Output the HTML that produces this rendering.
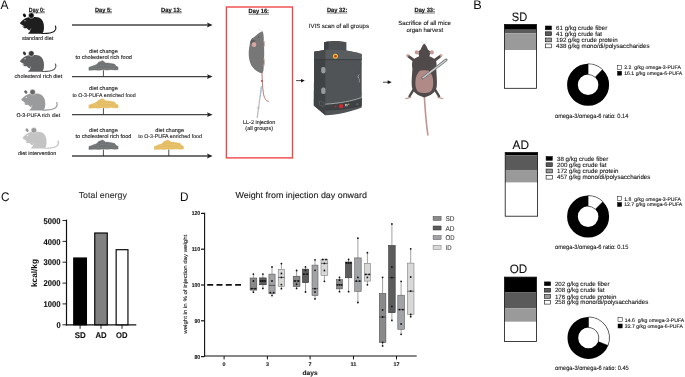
<!DOCTYPE html>
<html><head><meta charset="utf-8"><style>
html,body{margin:0;padding:0;background:#fff;overflow:hidden;width:685px;height:377px;}
svg{display:block;will-change:transform;filter:blur(0.3px);}
text{font-family:"Liberation Sans",sans-serif;text-rendering:geometricPrecision;}
</style></head><body>
<svg width="685" height="377" viewBox="0 0 685 377">
<rect width="685" height="377" fill="#fff"/>
<text x="0.5" y="9.0" font-size="12.5"  fill="#111" stroke="#111" stroke-width="0.04" textLength="8.0" lengthAdjust="spacingAndGlyphs" >A</text>
<text x="28.8" y="11.7" font-size="6.2" font-weight="bold" fill="#111" stroke="#111" stroke-width="0.15" textLength="16.1" lengthAdjust="spacingAndGlyphs" >Day 0:</text><line x1="28.8" y1="12.8" x2="44.9" y2="12.8" stroke="#222" stroke-width="0.6"/>
<text x="95.0" y="11.7" font-size="6.2" font-weight="bold" fill="#111" stroke="#111" stroke-width="0.15" textLength="17.0" lengthAdjust="spacingAndGlyphs" >Day 5:</text><line x1="95.0" y1="12.8" x2="112.0" y2="12.8" stroke="#222" stroke-width="0.6"/>
<text x="161.0" y="11.7" font-size="6.2" font-weight="bold" fill="#111" stroke="#111" stroke-width="0.15" textLength="20.8" lengthAdjust="spacingAndGlyphs" >Day 13:</text><line x1="161.0" y1="12.8" x2="181.8" y2="12.8" stroke="#222" stroke-width="0.6"/>
<text x="248.6" y="13.1" font-size="6.2" font-weight="bold" fill="#111" stroke="#111" stroke-width="0.15" textLength="20.4" lengthAdjust="spacingAndGlyphs" >Day 16:</text><line x1="248.6" y1="14.2" x2="269.0" y2="14.2" stroke="#222" stroke-width="0.6"/>
<text x="326.9" y="11.9" font-size="6.2" font-weight="bold" fill="#111" stroke="#111" stroke-width="0.15" textLength="20.4" lengthAdjust="spacingAndGlyphs" >Day 32:</text><line x1="326.9" y1="13.0" x2="347.3" y2="13.0" stroke="#222" stroke-width="0.6"/>
<text x="414.5" y="11.9" font-size="6.2" font-weight="bold" fill="#111" stroke="#111" stroke-width="0.15" textLength="20.5" lengthAdjust="spacingAndGlyphs" >Day 33:</text><line x1="414.5" y1="13.0" x2="435.0" y2="13.0" stroke="#222" stroke-width="0.6"/>
<line x1="72" y1="25.0" x2="209" y2="25.0" stroke="#444" stroke-width="1.3"/>
<path d="M207.0,22.6 L212.6,25.0 L207.0,27.4 L208.0,25.0 Z" fill="#222"/>
<line x1="72" y1="76.6" x2="209" y2="76.6" stroke="#444" stroke-width="1.3"/>
<path d="M207.0,74.19999999999999 L212.6,76.6 L207.0,79.0 L208.0,76.6 Z" fill="#222"/>
<line x1="72" y1="114.7" x2="209" y2="114.7" stroke="#444" stroke-width="1.3"/>
<path d="M207.0,112.3 L212.6,114.7 L207.0,117.10000000000001 L208.0,114.7 Z" fill="#222"/>
<line x1="72" y1="156.0" x2="209" y2="156.0" stroke="#444" stroke-width="1.3"/>
<path d="M207.0,153.6 L212.6,156.0 L207.0,158.4 L208.0,156.0 Z" fill="#222"/>
<g transform="translate(0,0)"><path d="M42,33.5 C47,33.6 51.5,33.3 54.3,31.2 C56,29.6 56.2,27.6 55.4,26" fill="none" stroke="#1e1e1e" stroke-width="1.1" stroke-linecap="round"/><ellipse cx="24.5" cy="15.4" rx="1.4" ry="1.9" transform="rotate(-35 24.5 15.4)" fill="#111"/><path d="M20.0,22.9 C21.0,21.6 22.5,20.0 24.2,18.9 C25.5,18.1 26.8,17.6 28.2,17.2 C30.5,16.8 32.0,16.9 33.0,17.3 C35.0,16.6 37.5,16.8 39.5,17.8 C42.5,19.4 44.2,23.0 44.0,27.5 C43.9,31.0 43.3,33.0 41.6,33.8 L28.3,33.8 L28.3,33.0 C29.3,32.6 30.0,31.6 30.2,30.6 C28.8,30.2 27.6,29.2 26.9,28.2 C25.8,28.4 24.6,28.4 23.5,28.0 C23.1,27.5 23.5,27.1 24.6,27.0 C23.8,26.5 23.0,26.4 22.3,26.8 C22.0,26.4 22.6,25.9 23.8,25.8 C22.6,25.2 21.4,24.6 20.6,24.0 C20.1,23.7 19.9,23.3 20.0,22.9 Z" fill="#1e1e1e"/><circle cx="31.3" cy="15.5" r="2.8" fill="#111" stroke="#fff" stroke-width="0.5"/><ellipse cx="25.0" cy="20.7" rx="0.75" ry="0.55" fill="#fff" opacity="0.9"/><path d="M30.8,28.4 C30.6,29.5 30.0,30.6 29.4,31.2" fill="none" stroke="#fff" stroke-width="0.45" opacity="0.9"/></g>
<g transform="translate(0,38)"><path d="M42,33.5 C47,33.6 51.5,33.3 54.3,31.2 C56,29.6 56.2,27.6 55.4,26" fill="none" stroke="#5f6061" stroke-width="1.1" stroke-linecap="round"/><ellipse cx="24.5" cy="15.4" rx="1.4" ry="1.9" transform="rotate(-35 24.5 15.4)" fill="#3a3a3a"/><path d="M20.0,22.9 C21.0,21.6 22.5,20.0 24.2,18.9 C25.5,18.1 26.8,17.6 28.2,17.2 C30.5,16.8 32.0,16.9 33.0,17.3 C35.0,16.6 37.5,16.8 39.5,17.8 C42.5,19.4 44.2,23.0 44.0,27.5 C43.9,31.0 43.3,33.0 41.6,33.8 L28.3,33.8 L28.3,33.0 C29.3,32.6 30.0,31.6 30.2,30.6 C28.8,30.2 27.6,29.2 26.9,28.2 C25.8,28.4 24.6,28.4 23.5,28.0 C23.1,27.5 23.5,27.1 24.6,27.0 C23.8,26.5 23.0,26.4 22.3,26.8 C22.0,26.4 22.6,25.9 23.8,25.8 C22.6,25.2 21.4,24.6 20.6,24.0 C20.1,23.7 19.9,23.3 20.0,22.9 Z" fill="#5f6061"/><circle cx="31.3" cy="15.5" r="2.8" fill="#3a3a3a" stroke="#fff" stroke-width="0.5"/><ellipse cx="25.0" cy="20.7" rx="0.75" ry="0.55" fill="#fff" opacity="0.9"/><path d="M30.8,28.4 C30.6,29.5 30.0,30.6 29.4,31.2" fill="none" stroke="#fff" stroke-width="0.45" opacity="0.9"/></g>
<g transform="translate(1.3,76.6)"><path d="M42,33.5 C47,33.6 51.5,33.3 54.3,31.2 C56,29.6 56.2,27.6 55.4,26" fill="none" stroke="#9a9b9c" stroke-width="1.1" stroke-linecap="round"/><ellipse cx="24.5" cy="15.4" rx="1.4" ry="1.9" transform="rotate(-35 24.5 15.4)" fill="#686868"/><path d="M20.0,22.9 C21.0,21.6 22.5,20.0 24.2,18.9 C25.5,18.1 26.8,17.6 28.2,17.2 C30.5,16.8 32.0,16.9 33.0,17.3 C35.0,16.6 37.5,16.8 39.5,17.8 C42.5,19.4 44.2,23.0 44.0,27.5 C43.9,31.0 43.3,33.0 41.6,33.8 L28.3,33.8 L28.3,33.0 C29.3,32.6 30.0,31.6 30.2,30.6 C28.8,30.2 27.6,29.2 26.9,28.2 C25.8,28.4 24.6,28.4 23.5,28.0 C23.1,27.5 23.5,27.1 24.6,27.0 C23.8,26.5 23.0,26.4 22.3,26.8 C22.0,26.4 22.6,25.9 23.8,25.8 C22.6,25.2 21.4,24.6 20.6,24.0 C20.1,23.7 19.9,23.3 20.0,22.9 Z" fill="#9a9b9c"/><circle cx="31.3" cy="15.5" r="2.8" fill="#686868" stroke="#fff" stroke-width="0.5"/><ellipse cx="25.0" cy="20.7" rx="0.75" ry="0.55" fill="#fff" opacity="0.9"/><path d="M30.8,28.4 C30.6,29.5 30.0,30.6 29.4,31.2" fill="none" stroke="#fff" stroke-width="0.45" opacity="0.9"/></g>
<g transform="translate(2.6,114.8)"><path d="M42,33.5 C47,33.6 51.5,33.3 54.3,31.2 C56,29.6 56.2,27.6 55.4,26" fill="none" stroke="#c4c4c4" stroke-width="1.1" stroke-linecap="round"/><ellipse cx="24.5" cy="15.4" rx="1.4" ry="1.9" transform="rotate(-35 24.5 15.4)" fill="#9a9a9a"/><path d="M20.0,22.9 C21.0,21.6 22.5,20.0 24.2,18.9 C25.5,18.1 26.8,17.6 28.2,17.2 C30.5,16.8 32.0,16.9 33.0,17.3 C35.0,16.6 37.5,16.8 39.5,17.8 C42.5,19.4 44.2,23.0 44.0,27.5 C43.9,31.0 43.3,33.0 41.6,33.8 L28.3,33.8 L28.3,33.0 C29.3,32.6 30.0,31.6 30.2,30.6 C28.8,30.2 27.6,29.2 26.9,28.2 C25.8,28.4 24.6,28.4 23.5,28.0 C23.1,27.5 23.5,27.1 24.6,27.0 C23.8,26.5 23.0,26.4 22.3,26.8 C22.0,26.4 22.6,25.9 23.8,25.8 C22.6,25.2 21.4,24.6 20.6,24.0 C20.1,23.7 19.9,23.3 20.0,22.9 Z" fill="#c4c4c4"/><circle cx="31.3" cy="15.5" r="2.8" fill="#9a9a9a" stroke="#fff" stroke-width="0.5"/><ellipse cx="25.0" cy="20.7" rx="0.75" ry="0.55" fill="#fff" opacity="0.9"/><path d="M30.8,28.4 C30.6,29.5 30.0,30.6 29.4,31.2" fill="none" stroke="#fff" stroke-width="0.45" opacity="0.9"/></g>
<text x="21.9" y="40.0" font-size="5.41"  fill="#222" stroke="#222" stroke-width="0.12" textLength="31.3" lengthAdjust="spacingAndGlyphs" >standard diet</text>
<text x="14.6" y="77.6" font-size="5.53"  fill="#222" stroke="#222" stroke-width="0.12" textLength="47.6" lengthAdjust="spacingAndGlyphs" >cholesterol rich diet</text>
<text x="16.5" y="116.6" font-size="5.23"  fill="#222" stroke="#222" stroke-width="0.12" textLength="43.6" lengthAdjust="spacingAndGlyphs" >O-3-PUFA rich diet</text>
<text x="17.9" y="154.6" font-size="5.45"  fill="#222" stroke="#222" stroke-width="0.12" textLength="38.5" lengthAdjust="spacingAndGlyphs" >diet intervention</text>
<path d="M88.90,70.30 L88.90,67.30 L90.40,66.70 L92.40,66.00 L93.90,65.40 L95.90,64.70 L97.40,63.70 L98.40,62.30 L100.40,61.60 L102.10,60.80 L103.30,61.10 L104.40,61.90 L105.60,63.00 L107.40,62.90 L110.10,63.30 L112.40,63.70 L114.50,64.10 L115.40,65.10 L115.90,66.10 L117.20,66.60 L118.10,67.20 L118.10,69.80 L114.90,70.00 L110.90,69.70 L106.90,70.10 L102.90,69.80 L98.90,70.30 L94.90,70.00 Z" fill="#6f7373" stroke="#6f7373" stroke-width="0.4" stroke-linejoin="round"/><path d="M90.9,68.1 l5,0" stroke="#8a8e8e" stroke-width="0.5" opacity="0.8"/><path d="M96.9,68.3 l6,0" stroke="#8a8e8e" stroke-width="0.5" opacity="0.8"/><path d="M103.9,68.5 l5,0" stroke="#8a8e8e" stroke-width="0.5" opacity="0.8"/><path d="M109.9,68.1 l6,0" stroke="#8a8e8e" stroke-width="0.5" opacity="0.8"/><path d="M93.9,66.3 l4,0" stroke="#8a8e8e" stroke-width="0.5" opacity="0.8"/><path d="M99.9,65.3 l5,0" stroke="#8a8e8e" stroke-width="0.5" opacity="0.8"/><path d="M105.9,65.7 l6,0" stroke="#8a8e8e" stroke-width="0.5" opacity="0.8"/><path d="M100.9,62.7 l3,0" stroke="#8a8e8e" stroke-width="0.5" opacity="0.8"/><path d="M112.9,66.1 l3,0" stroke="#8a8e8e" stroke-width="0.5" opacity="0.8"/><line x1="103.4" y1="70.3" x2="103.4" y2="76.6" stroke="#222" stroke-width="0.8"/>
<path d="M88.90,108.20 L88.90,105.20 L90.40,104.60 L92.40,103.90 L93.90,103.30 L95.90,102.60 L97.40,101.60 L98.40,100.20 L100.40,99.50 L102.10,98.70 L103.30,99.00 L104.40,99.80 L105.60,100.90 L107.40,100.80 L110.10,101.20 L112.40,101.60 L114.50,102.00 L115.40,103.00 L115.90,104.00 L117.20,104.50 L118.10,105.10 L118.10,107.70 L114.90,107.90 L110.90,107.60 L106.90,108.00 L102.90,107.70 L98.90,108.20 L94.90,107.90 Z" fill="#e4bc62" stroke="#e4bc62" stroke-width="0.4" stroke-linejoin="round"/><path d="M90.9,106.0 l5,0" stroke="#f0d28e" stroke-width="0.5" opacity="0.8"/><path d="M96.9,106.2 l6,0" stroke="#f0d28e" stroke-width="0.5" opacity="0.8"/><path d="M103.9,106.4 l5,0" stroke="#f0d28e" stroke-width="0.5" opacity="0.8"/><path d="M109.9,106.0 l6,0" stroke="#f0d28e" stroke-width="0.5" opacity="0.8"/><path d="M93.9,104.2 l4,0" stroke="#f0d28e" stroke-width="0.5" opacity="0.8"/><path d="M99.9,103.2 l5,0" stroke="#f0d28e" stroke-width="0.5" opacity="0.8"/><path d="M105.9,103.6 l6,0" stroke="#f0d28e" stroke-width="0.5" opacity="0.8"/><path d="M100.9,100.6 l3,0" stroke="#f0d28e" stroke-width="0.5" opacity="0.8"/><path d="M112.9,104.0 l3,0" stroke="#f0d28e" stroke-width="0.5" opacity="0.8"/><line x1="103.4" y1="108.2" x2="103.4" y2="114.7" stroke="#222" stroke-width="0.8"/>
<path d="M88.90,149.50 L88.90,146.50 L90.40,145.90 L92.40,145.20 L93.90,144.60 L95.90,143.90 L97.40,142.90 L98.40,141.50 L100.40,140.80 L102.10,140.00 L103.30,140.30 L104.40,141.10 L105.60,142.20 L107.40,142.10 L110.10,142.50 L112.40,142.90 L114.50,143.30 L115.40,144.30 L115.90,145.30 L117.20,145.80 L118.10,146.40 L118.10,149.00 L114.90,149.20 L110.90,148.90 L106.90,149.30 L102.90,149.00 L98.90,149.50 L94.90,149.20 Z" fill="#6f7373" stroke="#6f7373" stroke-width="0.4" stroke-linejoin="round"/><path d="M90.9,147.3 l5,0" stroke="#8a8e8e" stroke-width="0.5" opacity="0.8"/><path d="M96.9,147.5 l6,0" stroke="#8a8e8e" stroke-width="0.5" opacity="0.8"/><path d="M103.9,147.7 l5,0" stroke="#8a8e8e" stroke-width="0.5" opacity="0.8"/><path d="M109.9,147.3 l6,0" stroke="#8a8e8e" stroke-width="0.5" opacity="0.8"/><path d="M93.9,145.5 l4,0" stroke="#8a8e8e" stroke-width="0.5" opacity="0.8"/><path d="M99.9,144.5 l5,0" stroke="#8a8e8e" stroke-width="0.5" opacity="0.8"/><path d="M105.9,144.9 l6,0" stroke="#8a8e8e" stroke-width="0.5" opacity="0.8"/><path d="M100.9,141.9 l3,0" stroke="#8a8e8e" stroke-width="0.5" opacity="0.8"/><path d="M112.9,145.3 l3,0" stroke="#8a8e8e" stroke-width="0.5" opacity="0.8"/><line x1="103.4" y1="149.5" x2="103.4" y2="156" stroke="#222" stroke-width="0.8"/>
<path d="M154.30,149.50 L154.30,146.50 L155.80,145.90 L157.80,145.20 L159.30,144.60 L161.30,143.90 L162.80,142.90 L163.80,141.50 L165.80,140.80 L167.50,140.00 L168.70,140.30 L169.80,141.10 L171.00,142.20 L172.80,142.10 L175.50,142.50 L177.80,142.90 L179.90,143.30 L180.80,144.30 L181.30,145.30 L182.60,145.80 L183.50,146.40 L183.50,149.00 L180.30,149.20 L176.30,148.90 L172.30,149.30 L168.30,149.00 L164.30,149.50 L160.30,149.20 Z" fill="#e4bc62" stroke="#e4bc62" stroke-width="0.4" stroke-linejoin="round"/><path d="M156.3,147.3 l5,0" stroke="#f0d28e" stroke-width="0.5" opacity="0.8"/><path d="M162.3,147.5 l6,0" stroke="#f0d28e" stroke-width="0.5" opacity="0.8"/><path d="M169.3,147.7 l5,0" stroke="#f0d28e" stroke-width="0.5" opacity="0.8"/><path d="M175.3,147.3 l6,0" stroke="#f0d28e" stroke-width="0.5" opacity="0.8"/><path d="M159.3,145.5 l4,0" stroke="#f0d28e" stroke-width="0.5" opacity="0.8"/><path d="M165.3,144.5 l5,0" stroke="#f0d28e" stroke-width="0.5" opacity="0.8"/><path d="M171.3,144.9 l6,0" stroke="#f0d28e" stroke-width="0.5" opacity="0.8"/><path d="M166.3,141.9 l3,0" stroke="#f0d28e" stroke-width="0.5" opacity="0.8"/><path d="M178.3,145.3 l3,0" stroke="#f0d28e" stroke-width="0.5" opacity="0.8"/><line x1="168.8" y1="149.5" x2="168.8" y2="156" stroke="#222" stroke-width="0.8"/>
<text x="89.1" y="52.6" font-size="5.55"  fill="#222" stroke="#222" stroke-width="0.12" textLength="28.7" lengthAdjust="spacingAndGlyphs" >diet change</text>
<text x="75.4" y="59.0" font-size="5.62"  fill="#222" stroke="#222" stroke-width="0.12" textLength="56.5" lengthAdjust="spacingAndGlyphs" >to cholesterol rich food</text>
<text x="89.1" y="90.2" font-size="5.55"  fill="#222" stroke="#222" stroke-width="0.12" textLength="28.7" lengthAdjust="spacingAndGlyphs" >diet change</text>
<text x="72.4" y="96.6" font-size="5.27"  fill="#222" stroke="#222" stroke-width="0.12" textLength="63.3" lengthAdjust="spacingAndGlyphs" >to O-3-PUFA enriched food</text>
<text x="89.1" y="132.0" font-size="5.55"  fill="#222" stroke="#222" stroke-width="0.12" textLength="28.7" lengthAdjust="spacingAndGlyphs" >diet change</text>
<text x="75.5" y="138.3" font-size="5.55"  fill="#222" stroke="#222" stroke-width="0.12" textLength="55.8" lengthAdjust="spacingAndGlyphs" >to cholesterol rich food</text>
<text x="155.3" y="132.0" font-size="5.55"  fill="#222" stroke="#222" stroke-width="0.12" textLength="28.7" lengthAdjust="spacingAndGlyphs" >diet change</text>
<text x="138.3" y="138.3" font-size="5.31"  fill="#222" stroke="#222" stroke-width="0.12" textLength="63.7" lengthAdjust="spacingAndGlyphs" >to O-3-PUFA enriched food</text>
<rect x="226.4" y="7" width="66.1" height="150.9" fill="none" stroke="#f04848" stroke-width="1.4"/>
<path d="M261.9,72 C262.2,80 262.6,89 263.6,94.5 C264.6,99 266.5,101.5 268.8,101.3" fill="none" stroke="#c4706c" stroke-width="1.0"/>
<line x1="261.4" y1="87" x2="257.2" y2="117.8" stroke="#b8b8b8" stroke-width="1.2"/>
<line x1="256.6" y1="107.6" x2="260.0" y2="108.2" stroke="#b0b0b0" stroke-width="0.6"/>
<line x1="261.4" y1="86" x2="260.3" y2="97" stroke="#90c4dc" stroke-width="0.9"/>
<circle cx="262" cy="81" r="0.9" fill="#d03030"/>
<path d="M262.3,31.2 C263.3,32 263.8,35.5 263.8,40 C264.4,50 264.4,60 263.5,70 C263.2,72 262.7,73 261.9,73.2 C258,72.6 253,69 250.6,64 C248.6,59 248.4,53 249.0,49 C249.4,46 250.0,43 250.6,40.8 C250.8,39.5 251.8,38.4 253,37.7 C255,36.5 257.5,34.2 259.9,32.6 C260.8,32 261.6,31.4 262.3,31.2 Z" fill="#777777"/>
<circle cx="252.9" cy="41.9" r="2.5" fill="#5e5e5e"/>
<ellipse cx="254.0" cy="44.4" rx="2.3" ry="2.5" fill="#d9a5a1"/>
<circle cx="258.5" cy="37.0" r="0.55" fill="#333"/>
<path d="M263.6,40.5 C264.8,42 264.9,44.5 264.1,46.5" stroke="#d8a4a0" stroke-width="1" fill="none"/>
<path d="M263.8,58.5 C264.8,61 264.8,64 263.8,66" stroke="#d8a4a0" stroke-width="1" fill="none"/>
<line x1="262.4" y1="31.5" x2="258.6" y2="28.6" stroke="#bbb" stroke-width="0.35"/>
<text x="243.1" y="124.0" font-size="5.41"  fill="#222" stroke="#222" stroke-width="0.12" textLength="32.2" lengthAdjust="spacingAndGlyphs" >LL-2 injection</text>
<text x="245.3" y="130.0" font-size="5.56"  fill="#222" stroke="#222" stroke-width="0.12" textLength="27.8" lengthAdjust="spacingAndGlyphs" >(all groups)</text>
<line x1="296.1" y1="80.6" x2="301.5" y2="80.6" stroke="#333" stroke-width="0.9"/><path d="M301,78.9 L304.8,80.6 L301,82.4 Z" fill="#111"/>
<line x1="383" y1="82.2" x2="388.2" y2="82.2" stroke="#333" stroke-width="0.9"/><path d="M387.7,80.3 L391.7,82.2 L387.7,84.1 Z" fill="#111"/>
<text x="308.8" y="28.4" font-size="6.01"  fill="#222" stroke="#222" stroke-width="0.12" textLength="60.1" lengthAdjust="spacingAndGlyphs" >IVIS scan of all groups</text>
<text x="398.2" y="24.9" font-size="6.13"  fill="#222" stroke="#222" stroke-width="0.12" textLength="52.8" lengthAdjust="spacingAndGlyphs" >Sacrifice of all mice</text>
<text x="406.4" y="31.5" font-size="6.0"  fill="#222" stroke="#222" stroke-width="0.12" textLength="36.7" lengthAdjust="spacingAndGlyphs" >organ harvest</text>
<path d="M324.1,42.2 C330,40.6 340,40.6 346.4,42.2 L346.4,51 L324.1,51 Z" fill="#4d5052"/>
<path d="M324.1,42.2 C325.5,41.8 327,41.5 328.6,41.3 L328.6,51 L324.1,51 Z" fill="#3f4244"/>
<path d="M314.2,51.7 L325.3,49.9 C340,49.4 352,50.8 361.7,54.1 L361.7,107.4 C352,111.5 338,114.5 325.3,115.3 L313.8,105.4 Z" fill="#515456"/>
<path d="M314.2,51.7 L325.3,49.9 L325.3,115.3 L313.8,105.4 Z" fill="#404345"/>
<path d="M325.3,49.9 C340,49.4 352,50.8 361.7,54.1 L361.7,59.6 L325.3,59.6 Z" fill="#5a5d5f"/>
<path d="M314.2,51.7 L325.3,49.9 L325.3,59.6 L314.2,59.6 Z" fill="#484b4d"/>
<line x1="314.2" y1="59.6" x2="361.7" y2="59.6" stroke="#35383a" stroke-width="0.7"/>
<path d="M325.3,104.2 C340,103.2 352,101 361.7,97.5 L361.7,105.4 C352,108.3 338,110 325.3,110.1 Z" fill="#3f4244"/>
<path d="M325.3,104.2 C340,103.2 352,101 361.7,97.5" fill="none" stroke="#a3a5a7" stroke-width="1.0"/>
<path d="M325.3,110.1 C338,110 352,108.3 361.7,105.4" fill="none" stroke="#36393b" stroke-width="0.6"/>
<circle cx="335.4" cy="56.2" r="2.5" fill="#e6c23a"/><circle cx="335.4" cy="56.2" r="1.3" fill="#d0302c"/>
<circle cx="341.2" cy="106.2" r="2.1" fill="#d8282a"/><circle cx="335.6" cy="106.4" r="0.7" fill="#cc3030"/>
<rect x="345.2" y="104" width="2.2" height="2.2" fill="#e8e8e8"/><circle cx="346.3" cy="105.1" r="0.6" fill="#222"/><circle cx="348.7" cy="104.2" r="0.6" fill="#e6c23a"/>
<circle cx="357.3" cy="104.2" r="1.6" fill="#5c5f61" stroke="#2e3133" stroke-width="0.4"/>
<rect x="321.2" y="67.0" width="4.3" height="6.4" rx="1.8" fill="#97999b"/>
<rect x="321.2" y="87.6" width="4.3" height="6.4" rx="1.8" fill="#97999b"/>
<path d="M359.6,74.5 C357.6,75 357.6,78.2 359.4,78.8 L359.4,82.5" fill="none" stroke="#a0a2a4" stroke-width="1"/>
<path d="M361.2,63 C359.5,70 359.5,85 361.2,95" fill="none" stroke="#45484a" stroke-width="0.5"/>
<path d="M319.5,101 L323.8,102.6 L323.8,106.6 L319.5,105 Z" fill="none" stroke="#6a6d6f" stroke-width="0.5"/>
<path d="M424.3,96 C425.0,108 426.0,122 427.9,135" fill="none" stroke="#c09490" stroke-width="1.6" stroke-linecap="round"/>
<path d="M415.5,61.5 L410,57.5 L408.2,56 M433.1,61.5 L438.6,57.5 L440.4,56" stroke="#504b4a" stroke-width="2.8" fill="none" stroke-linecap="round"/>
<circle cx="407.5" cy="55.6" r="1.3" fill="#d4a09c"/><circle cx="441.1" cy="55.6" r="1.3" fill="#d4a09c"/>
<path d="M414,89 L410.5,94.5 L409.5,96.5 M434.6,89 L438.1,94.5 L439.1,96.5" stroke="#504b4a" stroke-width="2.4" fill="none" stroke-linecap="round"/>
<path d="M405.8,98.6 L410.8,97.4 M442.8,98.6 L437.8,97.4" stroke="#c49a96" stroke-width="1.2" fill="none" stroke-linecap="round"/>
<path d="M424.3,43.6 C425.6,44.4 426.8,46.8 427.9,49.4 L430.0,51.3 C430.4,53 430.0,54.8 429.4,56.3 C431.5,57.2 433.8,58.2 435.6,59.8 C437.0,62.5 436.6,66 436.2,69 C436.6,75 437.2,81 436.8,86 C436.4,90.5 433.5,93.5 429.5,95.5 L424.3,97.4 L419.1,95.5 C415.1,93.5 412.2,90.5 411.8,86 C411.4,81 412.0,75 412.4,69 C412.0,66 411.6,62.5 413.0,59.8 C414.8,58.2 417.1,57.2 419.2,56.3 C418.6,54.8 418.2,53 418.6,51.3 L420.7,49.4 C421.8,46.8 423.0,44.4 424.3,43.6 Z" fill="#504b4a"/>
<path d="M419.8,70.8 C422,70.0 426.6,70.0 428.8,70.8 C431.5,73.5 433.2,77 433.2,82 C433.2,87 432.5,90.5 429.5,92.3 C427,93.2 421.6,93.2 419.1,92.3 C416.1,90.5 415.4,87 415.4,82 C415.4,77 417.1,73.5 419.8,70.8 Z" fill="#b08a86"/>
<circle cx="416.8" cy="52.4" r="2.1" fill="#c59a96"/><circle cx="431.8" cy="52.4" r="2.1" fill="#c59a96"/>
<line x1="446.2" y1="59.9" x2="422.7" y2="78.0" stroke="#5a5c5e" stroke-width="2.6" stroke-linecap="round"/>
<line x1="446.0" y1="60.1" x2="422.9" y2="77.8" stroke="#c9cbcd" stroke-width="1.5" stroke-linecap="round"/>
<line x1="424.3" y1="44" x2="421" y2="41.5" stroke="#bbb" stroke-width="0.35"/><line x1="424.3" y1="44" x2="427.5" y2="41.5" stroke="#bbb" stroke-width="0.35"/>
<text x="473.3" y="9.1" font-size="12.5"  fill="#111" stroke="#111" stroke-width="0.04" textLength="8.5" lengthAdjust="spacingAndGlyphs" >B</text>
<text x="511.8" y="21.2" font-size="12.2"  fill="#111" stroke="#111" stroke-width="0.12" textLength="15.4" lengthAdjust="spacingAndGlyphs" >SD</text>
<rect x="504.4" y="24.40" width="32.10000000000002" height="5.32" fill="#000000"/><rect x="504.4" y="29.72" width="32.10000000000002" height="3.58" fill="#5a5a5a"/><rect x="504.4" y="33.30" width="32.10000000000002" height="16.76" fill="#9a9a9a"/><rect x="504.4" y="50.06" width="32.10000000000002" height="38.24" fill="#ffffff"/><rect x="504.4" y="24.4" width="32.10000000000002" height="63.9" fill="none" stroke="#111" stroke-width="0.8"/>
<rect x="545.3" y="26.0" width="6.2" height="3.8" fill="#000000" stroke="#111" stroke-width="0.6"/><text x="556.1" y="30.1" font-size="6.18"  fill="#222" stroke="#222" stroke-width="0.12" textLength="51.2" lengthAdjust="spacingAndGlyphs" >61 g/kg crude fiber</text><rect x="545.3" y="31.8" width="6.2" height="3.8" fill="#5a5a5a" stroke="#111" stroke-width="0.6"/><text x="556.1" y="35.9" font-size="6.18"  fill="#222" stroke="#222" stroke-width="0.12" textLength="46.0" lengthAdjust="spacingAndGlyphs" >41 g/kg crude fat</text><rect x="545.3" y="38.0" width="6.2" height="3.8" fill="#9a9a9a" stroke="#111" stroke-width="0.6"/><text x="556.1" y="42.1" font-size="6.18"  fill="#222" stroke="#222" stroke-width="0.12" textLength="61.5" lengthAdjust="spacingAndGlyphs" >192 g/kg crude protein</text><rect x="545.3" y="44.0" width="6.2" height="3.8" fill="#ffffff" stroke="#111" stroke-width="0.6"/><text x="556.1" y="48.1" font-size="6.18"  fill="#222" stroke="#222" stroke-width="0.12" textLength="93.4" lengthAdjust="spacingAndGlyphs" >438 g/kg mono/di/polysaccharides</text>
<circle cx="588.1" cy="84.8" r="15.65" fill="none" stroke="#000" stroke-width="10.7"/><path d="M588.1,63.8 A21,21 0 0 1 602.50,69.51 L595.16,77.30 A10.3,10.3 0 0 0 588.1,74.5 Z" fill="#fff" stroke="#000" stroke-width="0.5"/>
<rect x="617.5" y="65.4" width="4.2" height="4" fill="#fff" stroke="#111" stroke-width="0.5"/><text x="624.2" y="69.3" font-size="5.15"  fill="#222" stroke="#222" stroke-width="0.12" textLength="56.7" lengthAdjust="spacingAndGlyphs" >2.2 &#160;g/kg omega-3-PUFA</text><rect x="617.5" y="71.2" width="4.2" height="4" fill="#000" stroke="#111" stroke-width="0.5"/><text x="624.2" y="75.1" font-size="5.15"  fill="#222" stroke="#222" stroke-width="0.12" textLength="58.1" lengthAdjust="spacingAndGlyphs" >16.1 g/kg omega-6-PUFA</text>
<text x="555.0" y="117.8" font-size="6.2"  fill="#222" stroke="#222" stroke-width="0.12" textLength="73.3" lengthAdjust="spacingAndGlyphs" >omega-3/omega-6 ratio: 0.14</text>
<text x="512.6" y="148.6" font-size="12.2"  fill="#111" stroke="#111" stroke-width="0.12" textLength="16.4" lengthAdjust="spacingAndGlyphs" >AD</text>
<rect x="505.2" y="152.50" width="32.400000000000034" height="2.79" fill="#000000"/><rect x="505.2" y="155.29" width="32.400000000000034" height="14.69" fill="#5a5a5a"/><rect x="505.2" y="169.99" width="32.400000000000034" height="12.64" fill="#9a9a9a"/><rect x="505.2" y="182.62" width="32.400000000000034" height="33.58" fill="#ffffff"/><rect x="505.2" y="152.5" width="32.400000000000034" height="63.69999999999999" fill="none" stroke="#111" stroke-width="0.8"/>
<rect x="546.1" y="156.5" width="6.2" height="3.8" fill="#000000" stroke="#111" stroke-width="0.6"/><text x="557.0" y="160.6" font-size="6.18"  fill="#222" stroke="#222" stroke-width="0.12" textLength="51.2" lengthAdjust="spacingAndGlyphs" >38 g/kg crude fiber</text><rect x="546.1" y="162.8" width="6.2" height="3.8" fill="#5a5a5a" stroke="#111" stroke-width="0.6"/><text x="557.0" y="166.9" font-size="6.18"  fill="#222" stroke="#222" stroke-width="0.12" textLength="49.5" lengthAdjust="spacingAndGlyphs" >200 g/kg crude fat</text><rect x="546.1" y="169.1" width="6.2" height="3.8" fill="#9a9a9a" stroke="#111" stroke-width="0.6"/><text x="557.0" y="173.2" font-size="6.18"  fill="#222" stroke="#222" stroke-width="0.12" textLength="61.5" lengthAdjust="spacingAndGlyphs" >172 g/kg crude protein</text><rect x="546.1" y="175.3" width="6.2" height="3.8" fill="#ffffff" stroke="#111" stroke-width="0.6"/><text x="557.0" y="179.4" font-size="6.18"  fill="#222" stroke="#222" stroke-width="0.12" textLength="93.4" lengthAdjust="spacingAndGlyphs" >457 g/kg mono/di/polysaccharides</text>
<circle cx="588.1" cy="216.6" r="15.65" fill="none" stroke="#000" stroke-width="10.7"/><path d="M588.1,195.6 A21,21 0 0 1 602.87,201.67 L595.34,209.28 A10.3,10.3 0 0 0 588.1,206.29999999999998 Z" fill="#fff" stroke="#000" stroke-width="0.5"/>
<rect x="617.5" y="196.7" width="4.2" height="4" fill="#fff" stroke="#111" stroke-width="0.5"/><text x="624.2" y="200.6" font-size="5.15"  fill="#222" stroke="#222" stroke-width="0.12" textLength="56.7" lengthAdjust="spacingAndGlyphs" >1.8 &#160;g/kg omega-3-PUFA</text><rect x="617.5" y="202.5" width="4.2" height="4" fill="#000" stroke="#111" stroke-width="0.5"/><text x="624.2" y="206.4" font-size="5.15"  fill="#222" stroke="#222" stroke-width="0.12" textLength="58.1" lengthAdjust="spacingAndGlyphs" >12.7 g/kg omega-6-PUFA</text>
<text x="555.0" y="249.4" font-size="6.2"  fill="#222" stroke="#222" stroke-width="0.12" textLength="73.3" lengthAdjust="spacingAndGlyphs" >omega-3/omega-6 ratio: 0.15</text>
<text x="509.7" y="272.5" font-size="12.2"  fill="#111" stroke="#111" stroke-width="0.12" textLength="17.5" lengthAdjust="spacingAndGlyphs" >OD</text>
<rect x="504.4" y="277.10" width="32.10000000000002" height="15.41" fill="#000000"/><rect x="504.4" y="292.51" width="32.10000000000002" height="15.87" fill="#5a5a5a"/><rect x="504.4" y="308.38" width="32.10000000000002" height="13.43" fill="#9a9a9a"/><rect x="504.4" y="321.81" width="32.10000000000002" height="19.69" fill="#ffffff"/><rect x="504.4" y="277.1" width="32.10000000000002" height="64.39999999999998" fill="none" stroke="#111" stroke-width="0.8"/>
<rect x="544.4" y="281.9" width="6.2" height="3.8" fill="#000000" stroke="#111" stroke-width="0.6"/><text x="554.9" y="286.0" font-size="6.18"  fill="#222" stroke="#222" stroke-width="0.12" textLength="54.6" lengthAdjust="spacingAndGlyphs" >202 g/kg crude fiber</text><rect x="544.4" y="288.3" width="6.2" height="3.8" fill="#5a5a5a" stroke="#111" stroke-width="0.6"/><text x="554.9" y="292.4" font-size="6.18"  fill="#222" stroke="#222" stroke-width="0.12" textLength="49.5" lengthAdjust="spacingAndGlyphs" >208 g/kg crude fat</text><rect x="544.4" y="294.5" width="6.2" height="3.8" fill="#9a9a9a" stroke="#111" stroke-width="0.6"/><text x="554.9" y="298.6" font-size="6.18"  fill="#222" stroke="#222" stroke-width="0.12" textLength="61.5" lengthAdjust="spacingAndGlyphs" >176 g/kg crude protein</text><rect x="544.4" y="300.3" width="6.2" height="3.8" fill="#ffffff" stroke="#111" stroke-width="0.6"/><text x="554.9" y="304.4" font-size="6.18"  fill="#222" stroke="#222" stroke-width="0.12" textLength="93.4" lengthAdjust="spacingAndGlyphs" >258 g/kg mono/di/polysaccharides</text>
<circle cx="588.5" cy="337.9" r="15.65" fill="none" stroke="#000" stroke-width="10.7"/><path d="M588.5,316.9 A21,21 0 0 1 608.09,345.47 L598.11,341.61 A10.3,10.3 0 0 0 588.5,327.59999999999997 Z" fill="#fff" stroke="#000" stroke-width="0.5"/>
<rect x="618.0" y="317.6" width="4.2" height="4" fill="#fff" stroke="#111" stroke-width="0.5"/><text x="624.8" y="321.5" font-size="5.15"  fill="#222" stroke="#222" stroke-width="0.12" textLength="59.5" lengthAdjust="spacingAndGlyphs" >14.6 &#160;g/kg omega-3-PUFA</text><rect x="618.0" y="324.0" width="4.2" height="4" fill="#000" stroke="#111" stroke-width="0.5"/><text x="624.8" y="327.9" font-size="5.15"  fill="#222" stroke="#222" stroke-width="0.12" textLength="58.1" lengthAdjust="spacingAndGlyphs" >32.7 g/kg omega-6-PUFA</text>
<text x="555.0" y="370.4" font-size="6.2"  fill="#222" stroke="#222" stroke-width="0.12" textLength="73.8" lengthAdjust="spacingAndGlyphs" >omega-3/omega-6 ratio: 0.45</text>
<text x="1.0" y="201.0" font-size="12.5"  fill="#111" stroke="#111" stroke-width="0.04" textLength="8.5" lengthAdjust="spacingAndGlyphs" >C</text>
<text x="78.7" y="197.8" font-size="8.6"  fill="#333" stroke="#333" stroke-width="0.12" textLength="48.2" lengthAdjust="spacingAndGlyphs" >Total energy</text>
<line x1="66.5" y1="219.6" x2="66.5" y2="325.40000000000003" stroke="#111" stroke-width="1.2"/>
<line x1="65.9" y1="324.8" x2="136.3" y2="324.8" stroke="#111" stroke-width="1.2"/>
<line x1="62.5" y1="324.8" x2="66.3" y2="324.8" stroke="#111" stroke-width="0.9"/>
<text x="56.4" y="328.0" font-size="8.4" font-weight="bold" fill="#111" stroke="#111" stroke-width="0.12" textLength="4.2" lengthAdjust="spacingAndGlyphs" >0</text>
<line x1="62.5" y1="303.9" x2="66.3" y2="303.9" stroke="#111" stroke-width="0.9"/>
<text x="43.6" y="307.1" font-size="8.4" font-weight="bold" fill="#111" stroke="#111" stroke-width="0.12" textLength="17.0" lengthAdjust="spacingAndGlyphs" >1000</text>
<line x1="62.5" y1="283.1" x2="66.3" y2="283.1" stroke="#111" stroke-width="0.9"/>
<text x="43.6" y="286.3" font-size="8.4" font-weight="bold" fill="#111" stroke="#111" stroke-width="0.12" textLength="17.0" lengthAdjust="spacingAndGlyphs" >2000</text>
<line x1="62.5" y1="262.2" x2="66.3" y2="262.2" stroke="#111" stroke-width="0.9"/>
<text x="43.6" y="265.4" font-size="8.4" font-weight="bold" fill="#111" stroke="#111" stroke-width="0.12" textLength="17.0" lengthAdjust="spacingAndGlyphs" >3000</text>
<line x1="62.5" y1="241.4" x2="66.3" y2="241.4" stroke="#111" stroke-width="0.9"/>
<text x="43.6" y="244.6" font-size="8.4" font-weight="bold" fill="#111" stroke="#111" stroke-width="0.12" textLength="17.0" lengthAdjust="spacingAndGlyphs" >4000</text>
<line x1="62.5" y1="220.5" x2="66.3" y2="220.5" stroke="#111" stroke-width="0.9"/>
<text x="43.6" y="223.7" font-size="8.4" font-weight="bold" fill="#111" stroke="#111" stroke-width="0.12" textLength="17.0" lengthAdjust="spacingAndGlyphs" >5000</text>
<line x1="80.1" y1="324.8" x2="80.1" y2="328.8" stroke="#111" stroke-width="0.9"/>
<line x1="101.0" y1="324.8" x2="101.0" y2="328.8" stroke="#111" stroke-width="0.9"/>
<line x1="122.0" y1="324.8" x2="122.0" y2="328.8" stroke="#111" stroke-width="0.9"/>
<rect x="73.75" y="258.0" width="12.7" height="66.8" fill="#000" stroke="#000" stroke-width="1.15"/>
<rect x="94.75" y="233.0" width="12.5" height="91.8" fill="#808080" stroke="#000" stroke-width="1.15"/>
<rect x="116.15" y="249.7" width="11.8" height="75.1" fill="#fff" stroke="#000" stroke-width="1.15"/>
<text x="74.7" y="337.9" font-size="8.2" font-weight="bold" fill="#111" stroke="#111" stroke-width="0.12" textLength="11.0" lengthAdjust="spacingAndGlyphs" >SD</text>
<text x="95.4" y="337.9" font-size="8.2" font-weight="bold" fill="#111" stroke="#111" stroke-width="0.12" textLength="11.2" lengthAdjust="spacingAndGlyphs" >AD</text>
<text x="116.1" y="337.9" font-size="8.2" font-weight="bold" fill="#111" stroke="#111" stroke-width="0.12" textLength="11.5" lengthAdjust="spacingAndGlyphs" >OD</text>
<text transform="translate(37.0,287.0) rotate(-90)" font-size="8.2" font-weight="bold" fill="#111" textLength="28" lengthAdjust="spacingAndGlyphs">kcal/kg</text>
<text x="179.9" y="201.3" font-size="12.5"  fill="#111" stroke="#111" stroke-width="0.04" textLength="8.5" lengthAdjust="spacingAndGlyphs" >D</text>
<text x="235.5" y="198.1" font-size="8.6"  fill="#222" stroke="#222" stroke-width="0.12" textLength="131.4" lengthAdjust="spacingAndGlyphs" >Weight from injection day onward</text>
<line x1="204.6" y1="212.8" x2="204.6" y2="356.6" stroke="#111" stroke-width="1.1"/>
<line x1="204.1" y1="356.0" x2="416.7" y2="356.0" stroke="#111" stroke-width="1.1"/>
<line x1="201.0" y1="356.6" x2="204.6" y2="356.6" stroke="#111" stroke-width="1.2"/>
<text x="194.5" y="358.6" font-size="5.6" font-weight="bold" fill="#222" stroke="#222" stroke-width="0.12" textLength="5.6" lengthAdjust="spacingAndGlyphs" >80</text>
<line x1="201.0" y1="320.8" x2="204.6" y2="320.8" stroke="#111" stroke-width="1.2"/>
<text x="194.5" y="322.8" font-size="5.6" font-weight="bold" fill="#222" stroke="#222" stroke-width="0.12" textLength="5.6" lengthAdjust="spacingAndGlyphs" >90</text>
<line x1="201.0" y1="285.0" x2="204.6" y2="285.0" stroke="#111" stroke-width="1.2"/>
<text x="191.7" y="287.0" font-size="5.6" font-weight="bold" fill="#222" stroke="#222" stroke-width="0.12" textLength="8.4" lengthAdjust="spacingAndGlyphs" >100</text>
<line x1="201.0" y1="249.2" x2="204.6" y2="249.2" stroke="#111" stroke-width="1.2"/>
<text x="191.7" y="251.2" font-size="5.6" font-weight="bold" fill="#222" stroke="#222" stroke-width="0.12" textLength="8.4" lengthAdjust="spacingAndGlyphs" >110</text>
<line x1="201.0" y1="213.4" x2="204.6" y2="213.4" stroke="#111" stroke-width="1.2"/>
<text x="191.7" y="215.4" font-size="5.6" font-weight="bold" fill="#222" stroke="#222" stroke-width="0.12" textLength="8.4" lengthAdjust="spacingAndGlyphs" >120</text>
<line x1="224.1" y1="356.0" x2="224.1" y2="359.4" stroke="#111" stroke-width="1.0"/>
<text x="222.6" y="365.6" font-size="5.4" font-weight="bold" fill="#222" stroke="#222" stroke-width="0.12" textLength="3.0" lengthAdjust="spacingAndGlyphs" >0</text>
<line x1="267.4" y1="356.0" x2="267.4" y2="359.4" stroke="#111" stroke-width="1.0"/>
<text x="265.9" y="365.6" font-size="5.4" font-weight="bold" fill="#222" stroke="#222" stroke-width="0.12" textLength="3.0" lengthAdjust="spacingAndGlyphs" >3</text>
<line x1="310.1" y1="356.0" x2="310.1" y2="359.4" stroke="#111" stroke-width="1.0"/>
<text x="308.6" y="365.6" font-size="5.4" font-weight="bold" fill="#222" stroke="#222" stroke-width="0.12" textLength="3.0" lengthAdjust="spacingAndGlyphs" >7</text>
<line x1="353.5" y1="356.0" x2="353.5" y2="359.4" stroke="#111" stroke-width="1.0"/>
<text x="350.5" y="365.6" font-size="5.4" font-weight="bold" fill="#222" stroke="#222" stroke-width="0.12" textLength="6.0" lengthAdjust="spacingAndGlyphs" >11</text>
<line x1="396.5" y1="356.0" x2="396.5" y2="359.4" stroke="#111" stroke-width="1.0"/>
<text x="393.5" y="365.6" font-size="5.4" font-weight="bold" fill="#222" stroke="#222" stroke-width="0.12" textLength="6.0" lengthAdjust="spacingAndGlyphs" >17</text>
<text x="302.6" y="375.0" font-size="6.6" font-weight="bold" fill="#222" stroke="#222" stroke-width="0.12" textLength="15.0" lengthAdjust="spacingAndGlyphs" >days</text>
<text transform="translate(187.0,333.7) rotate(-90)" font-size="5.2" fill="#222" stroke="#222" stroke-width="0.12" textLength="99" lengthAdjust="spacingAndGlyphs">weight in in % of injection day weight</text>
<line x1="207.2" y1="284.8" x2="241" y2="284.8" stroke="#111" stroke-width="1.8" stroke-dasharray="6 3.3"/>
<line x1="253.4" y1="274.1" x2="253.4" y2="292.2" stroke="#8a8a8a" stroke-width="0.8"/>
<rect x="250.1" y="278.0" width="6.7" height="12.1" fill="#8a8a8a" stroke="#4a4a4a" stroke-width="0.55"/>
<line x1="250.1" y1="288.6" x2="256.8" y2="288.6" stroke="#222" stroke-width="0.6"/>
<circle cx="253.4" cy="274.1" r="0.9" fill="#111"/>
<circle cx="253.4" cy="281.0" r="0.9" fill="#111"/>
<circle cx="251.8" cy="288.6" r="0.9" fill="#111"/>
<circle cx="255.0" cy="288.6" r="0.9" fill="#111"/>
<circle cx="253.4" cy="292.2" r="0.9" fill="#111"/>
<line x1="262.9" y1="274.1" x2="262.9" y2="288.4" stroke="#8a8a8a" stroke-width="0.8"/>
<rect x="259.6" y="277.9" width="6.6" height="6.9" fill="#5c5c5c" stroke="#2e2e2e" stroke-width="0.55"/>
<line x1="259.6" y1="281.0" x2="266.2" y2="281.0" stroke="#222" stroke-width="0.6"/>
<circle cx="262.9" cy="274.1" r="0.9" fill="#111"/>
<circle cx="260.8" cy="281.0" r="0.9" fill="#111"/>
<circle cx="262.9" cy="281.0" r="0.9" fill="#111"/>
<circle cx="265.0" cy="281.0" r="0.9" fill="#111"/>
<circle cx="262.9" cy="288.4" r="0.9" fill="#111"/>
<line x1="272.0" y1="266.9" x2="272.0" y2="295.6" stroke="#8a8a8a" stroke-width="0.8"/>
<rect x="268.9" y="274.1" width="6.2" height="19.7" fill="#a2a3a6" stroke="#555" stroke-width="0.55"/>
<line x1="268.9" y1="285.4" x2="275.1" y2="285.4" stroke="#222" stroke-width="0.6"/>
<circle cx="272.0" cy="266.9" r="0.9" fill="#111"/>
<circle cx="272.0" cy="281.0" r="0.9" fill="#111"/>
<circle cx="270.4" cy="292.6" r="0.9" fill="#111"/>
<circle cx="273.6" cy="292.6" r="0.9" fill="#111"/>
<circle cx="272.0" cy="295.6" r="0.9" fill="#111"/>
<line x1="281.4" y1="263.6" x2="281.4" y2="288.7" stroke="#8a8a8a" stroke-width="0.8"/>
<rect x="278.2" y="269.3" width="6.4" height="17.3" fill="#d8d8d8" stroke="#777" stroke-width="0.55"/>
<line x1="278.2" y1="277.4" x2="284.6" y2="277.4" stroke="#222" stroke-width="0.6"/>
<circle cx="281.4" cy="263.6" r="0.9" fill="#111"/>
<circle cx="281.4" cy="273.5" r="0.9" fill="#111"/>
<circle cx="281.4" cy="277.4" r="0.9" fill="#111"/>
<circle cx="281.4" cy="284.6" r="0.9" fill="#111"/>
<circle cx="281.4" cy="288.7" r="0.9" fill="#111"/>
<line x1="296.6" y1="270.5" x2="296.6" y2="288.4" stroke="#8a8a8a" stroke-width="0.8"/>
<rect x="293.2" y="276.2" width="6.8" height="10.4" fill="#8a8a8a" stroke="#4a4a4a" stroke-width="0.55"/>
<line x1="293.2" y1="281.0" x2="300.0" y2="281.0" stroke="#222" stroke-width="0.6"/>
<circle cx="296.6" cy="270.5" r="0.9" fill="#111"/>
<circle cx="295.0" cy="281.0" r="0.9" fill="#111"/>
<circle cx="298.2" cy="281.0" r="0.9" fill="#111"/>
<circle cx="296.6" cy="284.2" r="0.9" fill="#111"/>
<circle cx="296.6" cy="288.4" r="0.9" fill="#111"/>
<line x1="305.5" y1="266.9" x2="305.5" y2="292.0" stroke="#8a8a8a" stroke-width="0.8"/>
<rect x="302.4" y="269.1" width="6.3" height="13.6" fill="#5c5c5c" stroke="#2e2e2e" stroke-width="0.55"/>
<line x1="302.4" y1="274.1" x2="308.7" y2="274.1" stroke="#222" stroke-width="0.6"/>
<circle cx="305.5" cy="266.9" r="0.9" fill="#111"/>
<circle cx="305.5" cy="270.3" r="0.9" fill="#111"/>
<circle cx="303.9" cy="274.1" r="0.9" fill="#111"/>
<circle cx="307.1" cy="274.1" r="0.9" fill="#111"/>
<circle cx="305.5" cy="292.0" r="0.9" fill="#111"/>
<line x1="315.0" y1="259.8" x2="315.0" y2="298.9" stroke="#8a8a8a" stroke-width="0.8"/>
<rect x="312.0" y="265.1" width="6.0" height="30.5" fill="#a2a3a6" stroke="#555" stroke-width="0.55"/>
<line x1="312.0" y1="288.7" x2="318.0" y2="288.7" stroke="#222" stroke-width="0.6"/>
<circle cx="315.0" cy="259.8" r="0.9" fill="#111"/>
<circle cx="315.0" cy="270.3" r="0.9" fill="#111"/>
<circle cx="315.0" cy="288.7" r="0.9" fill="#111"/>
<circle cx="315.0" cy="292.0" r="0.9" fill="#111"/>
<circle cx="315.0" cy="298.9" r="0.9" fill="#111"/>
<line x1="324.4" y1="259.5" x2="324.4" y2="281.3" stroke="#8a8a8a" stroke-width="0.8"/>
<rect x="321.0" y="259.5" width="6.8" height="16.0" fill="#d8d8d8" stroke="#777" stroke-width="0.55"/>
<line x1="321.0" y1="263.4" x2="327.8" y2="263.4" stroke="#222" stroke-width="0.6"/>
<circle cx="322.8" cy="259.5" r="0.9" fill="#111"/>
<circle cx="326.0" cy="259.5" r="0.9" fill="#111"/>
<circle cx="324.4" cy="263.4" r="0.9" fill="#111"/>
<circle cx="324.4" cy="270.5" r="0.9" fill="#111"/>
<circle cx="324.4" cy="281.3" r="0.9" fill="#111"/>
<line x1="339.5" y1="277.4" x2="339.5" y2="291.7" stroke="#8a8a8a" stroke-width="0.8"/>
<rect x="336.5" y="279.6" width="6.0" height="9.3" fill="#8a8a8a" stroke="#4a4a4a" stroke-width="0.55"/>
<line x1="336.5" y1="284.8" x2="342.5" y2="284.8" stroke="#222" stroke-width="0.6"/>
<circle cx="339.5" cy="277.4" r="0.9" fill="#111"/>
<circle cx="339.5" cy="280.2" r="0.9" fill="#111"/>
<circle cx="337.4" cy="284.8" r="0.9" fill="#111"/>
<circle cx="339.5" cy="284.8" r="0.9" fill="#111"/>
<circle cx="341.6" cy="284.8" r="0.9" fill="#111"/>
<circle cx="339.5" cy="291.7" r="0.9" fill="#111"/>
<line x1="348.6" y1="259.5" x2="348.6" y2="291.7" stroke="#8a8a8a" stroke-width="0.8"/>
<rect x="345.4" y="262.0" width="6.4" height="15.8" fill="#5c5c5c" stroke="#2e2e2e" stroke-width="0.55"/>
<line x1="345.4" y1="262.9" x2="351.8" y2="262.9" stroke="#222" stroke-width="0.6"/>
<circle cx="348.6" cy="259.5" r="0.9" fill="#111"/>
<circle cx="346.5" cy="262.9" r="0.9" fill="#111"/>
<circle cx="348.6" cy="262.9" r="0.9" fill="#111"/>
<circle cx="350.7" cy="262.9" r="0.9" fill="#111"/>
<circle cx="348.6" cy="291.7" r="0.9" fill="#111"/>
<line x1="357.9" y1="238.2" x2="357.9" y2="302.5" stroke="#8a8a8a" stroke-width="0.8"/>
<rect x="354.7" y="257.9" width="6.5" height="33.4" fill="#a2a3a6" stroke="#555" stroke-width="0.55"/>
<line x1="354.7" y1="281.1" x2="361.2" y2="281.1" stroke="#222" stroke-width="0.6"/>
<circle cx="357.9" cy="238.2" r="0.9" fill="#111"/>
<circle cx="357.9" cy="277.4" r="0.9" fill="#111"/>
<circle cx="356.3" cy="281.1" r="0.9" fill="#111"/>
<circle cx="359.6" cy="281.1" r="0.9" fill="#111"/>
<circle cx="357.9" cy="302.5" r="0.9" fill="#111"/>
<line x1="367.4" y1="252.7" x2="367.4" y2="284.8" stroke="#8a8a8a" stroke-width="0.8"/>
<rect x="364.4" y="263.3" width="6.1" height="17.8" fill="#d8d8d8" stroke="#777" stroke-width="0.55"/>
<line x1="364.4" y1="274.4" x2="370.5" y2="274.4" stroke="#222" stroke-width="0.6"/>
<circle cx="367.4" cy="252.7" r="0.9" fill="#111"/>
<circle cx="365.8" cy="274.4" r="0.9" fill="#111"/>
<circle cx="369.1" cy="274.4" r="0.9" fill="#111"/>
<circle cx="367.4" cy="277.4" r="0.9" fill="#111"/>
<circle cx="367.4" cy="284.8" r="0.9" fill="#111"/>
<line x1="382.6" y1="277.3" x2="382.6" y2="345.9" stroke="#8a8a8a" stroke-width="0.8"/>
<rect x="379.3" y="293.5" width="6.6" height="49.0" fill="#8a8a8a" stroke="#4a4a4a" stroke-width="0.55"/>
<line x1="379.3" y1="317.0" x2="385.9" y2="317.0" stroke="#222" stroke-width="0.6"/>
<circle cx="382.6" cy="277.3" r="0.9" fill="#111"/>
<circle cx="382.6" cy="309.9" r="0.9" fill="#111"/>
<circle cx="382.6" cy="317.0" r="0.9" fill="#111"/>
<circle cx="382.6" cy="342.5" r="0.9" fill="#111"/>
<circle cx="382.6" cy="345.9" r="0.9" fill="#111"/>
<line x1="391.9" y1="223.9" x2="391.9" y2="320.4" stroke="#8a8a8a" stroke-width="0.8"/>
<rect x="388.6" y="245.5" width="6.6" height="67.2" fill="#5c5c5c" stroke="#2e2e2e" stroke-width="0.55"/>
<line x1="388.6" y1="277.6" x2="395.2" y2="277.6" stroke="#222" stroke-width="0.6"/>
<circle cx="391.9" cy="223.9" r="0.9" fill="#111"/>
<circle cx="391.9" cy="267.0" r="0.9" fill="#111"/>
<circle cx="391.9" cy="277.6" r="0.9" fill="#111"/>
<circle cx="391.9" cy="306.4" r="0.9" fill="#111"/>
<circle cx="391.9" cy="320.4" r="0.9" fill="#111"/>
<line x1="401.1" y1="281.3" x2="401.1" y2="334.3" stroke="#8a8a8a" stroke-width="0.8"/>
<rect x="397.8" y="295.2" width="6.7" height="34.1" fill="#a2a3a6" stroke="#555" stroke-width="0.55"/>
<line x1="397.8" y1="309.6" x2="404.5" y2="309.6" stroke="#222" stroke-width="0.6"/>
<circle cx="401.1" cy="281.3" r="0.9" fill="#111"/>
<circle cx="399.5" cy="309.6" r="0.9" fill="#111"/>
<circle cx="402.8" cy="309.6" r="0.9" fill="#111"/>
<circle cx="401.1" cy="324.0" r="0.9" fill="#111"/>
<circle cx="401.1" cy="334.3" r="0.9" fill="#111"/>
<line x1="410.7" y1="248.8" x2="410.7" y2="316.7" stroke="#8a8a8a" stroke-width="0.8"/>
<rect x="407.4" y="263.1" width="6.6" height="51.3" fill="#d8d8d8" stroke="#777" stroke-width="0.55"/>
<line x1="407.4" y1="291.2" x2="414.0" y2="291.2" stroke="#222" stroke-width="0.6"/>
<circle cx="410.7" cy="248.8" r="0.9" fill="#111"/>
<circle cx="410.7" cy="277.0" r="0.9" fill="#111"/>
<circle cx="410.7" cy="291.2" r="0.9" fill="#111"/>
<circle cx="410.7" cy="314.4" r="0.9" fill="#111"/>
<circle cx="410.7" cy="316.7" r="0.9" fill="#111"/>
<rect x="433.1" y="216.4" width="8" height="4" fill="#8a8a8a" stroke="#4a4a4a" stroke-width="0.5"/>
<text x="445.5" y="220.9" font-size="7.0"  fill="#444" stroke="#444" stroke-width="0.12" textLength="9.0" lengthAdjust="spacingAndGlyphs" >SD</text>
<rect x="433.1" y="226.0" width="8" height="4" fill="#5c5c5c" stroke="#2e2e2e" stroke-width="0.5"/>
<text x="445.5" y="230.5" font-size="7.0"  fill="#444" stroke="#444" stroke-width="0.12" textLength="9.0" lengthAdjust="spacingAndGlyphs" >AD</text>
<rect x="433.1" y="235.6" width="8" height="4" fill="#a2a3a6" stroke="#555" stroke-width="0.5"/>
<text x="445.5" y="240.1" font-size="7.0"  fill="#444" stroke="#444" stroke-width="0.12" textLength="9.0" lengthAdjust="spacingAndGlyphs" >OD</text>
<rect x="433.1" y="245.3" width="8" height="4" fill="#d8d8d8" stroke="#777" stroke-width="0.5"/>
<text x="445.5" y="249.8" font-size="7.0"  fill="#444" stroke="#444" stroke-width="0.12" textLength="6.0" lengthAdjust="spacingAndGlyphs" >ID</text>
</svg>
</body></html>
